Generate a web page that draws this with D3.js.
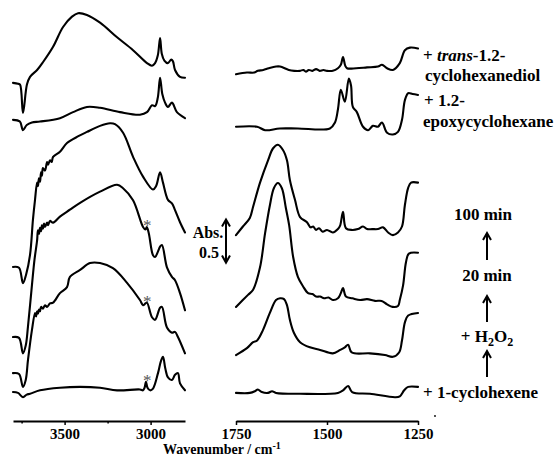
<!DOCTYPE html>
<html><head><meta charset="utf-8">
<script src="https://cdn.jsdelivr.net/npm/d3@7"></script>
<style>
body{margin:0;background:#fff;}
svg{display:block;}
text{font-family:"Liberation Serif","Times New Roman",serif;font-weight:bold;fill:#000;}
</style></head>
<body><svg id="c" width="554" height="456"></svg>
<script>
// ---- data (wavenumber cm-1, absorbance relative to each spectrum's offset) ----
const spectraNames = ["+ trans-1.2-cyclohexanediol","+ 1.2-epoxycyclohexane","100 min","20 min","+ H2O2","+ 1-cyclohexene"];
const offsets = [3.92, 3.49, 1.78, 0.965, 0.545, 0.325];
const leftTicksMajor = [3500, 3000];
const leftTicksMinor = [3750, 3250];
const rightTicks = [1750, 1500, 1250];
const asteriskWn = 3025;
const asteriskSpectra = [3, 4, 5];
const scaleBarBase = 1.83;   // absorbance where the 0.5 scale bar starts
const scaleBarSize = 0.5;

const diolHigh = [[3800,0],[3771,-0.01],[3759,-0.02],[3742,-0.35],[3719,-0.02],[3701,0.07],[3660,0.15],[3626,0.24],[3567,0.42],[3509,0.65],[3457,0.77],[3422,0.81],[3370,0.79],[3294,0.70],[3195,0.53],[3102,0.38],[3021,0.23],[2992,0.20],[2974,0.23],[2958,0.32],[2945,0.52],[2935,0.34],[2920,0.26],[2900,0.23],[2880,0.27],[2870,0.25],[2858,0.15],[2829,0.07],[2800,0.06]];
const epoxyHigh = [[3800,0],[3760,-0.02],[3742,-0.12],[3720,-0.06],[3690,-0.03],[3643,-0.02],[3527,0.02],[3451,0.09],[3370,0.15],[3294,0.14],[3178,0.09],[3062,0.06],[3021,0.09],[2992,0.17],[2974,0.16],[2958,0.26],[2945,0.49],[2932,0.30],[2916,0.20],[2899,0.15],[2876,0.20],[2847,0.09],[2800,0.02]];
const run100High = [[3800,0],[3765,-0.01],[3742,-0.19],[3724,-0.09],[3701,0.14],[3684,0.55],[3672,0.78],[3660,0.98],[3655,0.94],[3649,1.03],[3643,0.99],[3637,1.10],[3632,1.06],[3626,1.15],[3614,1.12],[3602,1.22],[3596,1.19],[3585,1.24],[3575,1.22],[3567,1.28],[3527,1.34],[3486,1.44],[3420,1.52],[3370,1.57],[3294,1.64],[3236,1.67],[3207,1.66],[3160,1.56],[3102,1.28],[3044,1.05],[2986,0.90],[2968,0.94],[2945,1.10],[2928,0.98],[2899,0.78],[2876,0.74],[2858,0.66],[2829,0.52],[2800,0.40]];
const run20High = [[3800,0],[3765,-0.01],[3742,-0.19],[3726,-0.10],[3713,0.12],[3690,0.60],[3675,0.90],[3660,1.12],[3655,1.24],[3649,1.20],[3643,1.27],[3637,1.23],[3632,1.30],[3626,1.26],[3620,1.32],[3614,1.28],[3602,1.33],[3596,1.30],[3585,1.35],[3567,1.33],[3527,1.40],[3469,1.48],[3410,1.56],[3294,1.69],[3195,1.77],[3160,1.73],[3102,1.59],[3044,1.28],[3030,1.25],[3022,1.28],[3010,1.20],[2986,0.95],[2974,0.93],[2958,0.99],[2945,1.05],[2934,1.07],[2905,0.81],[2876,0.70],[2858,0.66],[2829,0.51],[2800,0.31]];
const h2o2High = [[3800,0],[3765,-0.01],[3742,-0.16],[3726,-0.08],[3713,0.15],[3690,0.50],[3672,0.70],[3666,0.66],[3660,0.72],[3655,0.69],[3649,0.74],[3643,0.72],[3637,0.77],[3626,0.75],[3614,0.79],[3602,0.77],[3585,0.81],[3567,0.82],[3527,0.93],[3486,1.00],[3469,1.12],[3410,1.20],[3352,1.28],[3294,1.28],[3219,1.22],[3137,1.05],[3062,0.85],[3044,0.79],[3030,0.81],[3021,0.82],[2992,0.65],[2974,0.62],[2945,0.76],[2934,0.77],[2905,0.53],[2876,0.47],[2858,0.48],[2841,0.42],[2800,0.23]];
const cyclohexeneHigh = [[3800,0],[3771,-0.01],[3742,-0.06],[3720,-0.03],[3701,-0.02],[3643,0.02],[3527,0.05],[3410,0.06],[3294,0.05],[3195,0.02],[3062,0.03],[3044,0.02],[3035,0.05],[3027,0.12],[3018,0.05],[3003,0.02],[2986,0.04],[2957,0.22],[2940,0.36],[2928,0.41],[2915,0.28],[2899,0.17],[2876,0.14],[2858,0.20],[2841,0.22],[2829,0.10],[2800,0.02]];

const diolLow = [[1750,0.10],[1720,0.12],[1700,0.12],[1690,0.14],[1675,0.15],[1660,0.17],[1640,0.19],[1629,0.19],[1605,0.15],[1590,0.14],[1574,0.14],[1565,0.15],[1558,0.13],[1550,0.15],[1540,0.14],[1530,0.16],[1520,0.14],[1510,0.15],[1500,0.14],[1484,0.14],[1470,0.17],[1462,0.21],[1456,0.30],[1450,0.20],[1445,0.17],[1420,0.17],[1390,0.18],[1360,0.19],[1349,0.21],[1335,0.17],[1319,0.15],[1300,0.23],[1286,0.38],[1272,0.41],[1250,0.40]];
const epoxyLow = [[1750,-0.08],[1692,-0.08],[1670,-0.12],[1630,-0.10],[1580,-0.10],[1492,-0.10],[1478,-0.03],[1470,0.12],[1462,0.35],[1451,0.21],[1440,0.48],[1434,0.40],[1429,0.15],[1418,0.09],[1401,-0.08],[1387,-0.12],[1374,-0.07],[1360,-0.08],[1349,-0.03],[1335,-0.15],[1319,-0.17],[1305,-0.14],[1294,0.0],[1286,0.23],[1277,0.31],[1265,0.30],[1250,0.29]];
const run100Low = [[1750,0.37],[1731,0.47],[1712,0.57],[1703,0.70],[1684,0.98],[1662,1.24],[1648,1.38],[1635,1.42],[1621,1.36],[1610,1.24],[1602,1.01],[1588,0.78],[1574,0.58],[1555,0.52],[1545,0.46],[1538,0.47],[1530,0.43],[1522,0.45],[1512,0.41],[1500,0.43],[1484,0.40],[1470,0.44],[1464,0.48],[1456,0.64],[1448,0.45],[1431,0.43],[1415,0.44],[1401,0.47],[1390,0.44],[1376,0.44],[1360,0.44],[1346,0.46],[1332,0.40],[1319,0.37],[1305,0.40],[1294,0.47],[1286,0.72],[1277,0.92],[1269,0.98],[1250,0.98]];
const run20Low = [[1750,0.35],[1717,0.49],[1703,0.55],[1684,0.81],[1670,1.21],[1657,1.53],[1646,1.73],[1635,1.79],[1624,1.73],[1613,1.50],[1604,1.30],[1593,0.93],[1580,0.70],[1566,0.59],[1552,0.51],[1540,0.50],[1530,0.47],[1519,0.47],[1508,0.45],[1496,0.46],[1484,0.43],[1470,0.45],[1462,0.51],[1456,0.57],[1448,0.47],[1430,0.45],[1409,0.43],[1390,0.44],[1368,0.42],[1350,0.42],[1335,0.38],[1320,0.35],[1305,0.36],[1300,0.43],[1291,0.60],[1283,0.87],[1275,0.97],[1250,0.98]];
const h2o2Low = [[1750,0.21],[1720,0.29],[1703,0.36],[1692,0.38],[1676,0.50],[1657,0.70],[1640,0.85],[1629,0.87],[1618,0.86],[1610,0.79],[1602,0.62],[1591,0.47],[1574,0.36],[1547,0.30],[1519,0.27],[1484,0.23],[1464,0.27],[1451,0.30],[1442,0.33],[1432,0.24],[1382,0.23],[1341,0.21],[1319,0.19],[1302,0.24],[1294,0.38],[1286,0.59],[1277,0.67],[1250,0.70]];
const cyclohexeneLow = [[1750,-0.01],[1712,-0.01],[1698,0.01],[1690,0.03],[1679,0.0],[1662,-0.01],[1651,0.01],[1640,-0.01],[1574,-0.02],[1470,-0.01],[1456,0.02],[1442,0.07],[1431,0.0],[1382,-0.02],[1313,-0.06],[1300,-0.05],[1288,0.02],[1277,0.06],[1250,0.06]];

const highSpectra = [diolHigh, epoxyHigh, run100High, run20High, h2o2High, cyclohexeneHigh];
const lowSpectra = [diolLow, epoxyLow, run100Low, run20Low, h2o2Low, cyclohexeneLow];

// ---- drawing ----
const svg = d3.select("#c");
const xL = d3.scaleLinear().domain([3800, 2800]).range([13, 185]);
const xR = d3.scaleLinear().domain([1750, 1250]).range([236, 418]);
const y = d3.scaleLinear().domain([0, 1]).range([420, 334]);

function drawPanel(x, spectra) {
  spectra.forEach((s, i) => {
    const line = d3.line().x(d => x(d[0])).y(d => y(d[1] + offsets[i])).curve(d3.curveCatmullRom.alpha(0.5));
    svg.append("path").attr("d", line(s)).attr("fill", "none").attr("stroke", "#000")
      .attr("stroke-width", 2.1).attr("stroke-linejoin", "round").attr("stroke-linecap", "round");
  });
}
drawPanel(xL, highSpectra);
drawPanel(xR, lowSpectra);

// asterisks
asteriskSpectra.forEach(i => {
  const s = highSpectra[i];
  const pt = s.reduce((a, b) => Math.abs(b[0] - asteriskWn) < Math.abs(a[0] - asteriskWn) ? b : a);
  svg.append("text").attr("x", xL(asteriskWn) + 1).attr("y", y(pt[1] + offsets[i]) + 4)
    .attr("text-anchor", "middle").style("font-size", "17px").style("font-weight", "normal")
    .style("fill", "#555").text("*");
});

// axes
function styleAxis(g) {
  g.select(".domain").attr("stroke-width", 1.8);
  g.selectAll(".tick line").attr("stroke-width", 1.5);
  g.selectAll(".tick text").style("font-family", "'Liberation Serif',serif").style("font-weight", "bold").style("font-size", "15px").attr("dy", "0").attr("y", 18);
}
const axLeft = svg.append("g").attr("transform", "translate(0,421)")
  .call(d3.axisBottom(xL).tickValues(leftTicksMajor).tickSize(4).tickSizeOuter(0).tickFormat(d3.format("d")));
styleAxis(axLeft);
const axLeftMinor = svg.append("g").attr("transform", "translate(0,421)")
  .call(d3.axisBottom(xL).tickValues(leftTicksMinor).tickSize(2.5).tickSizeOuter(0).tickFormat(""));
axLeftMinor.select(".domain").remove();
axLeftMinor.selectAll(".tick line").attr("stroke-width", 1.5);
const axRight = svg.append("g").attr("transform", "translate(0,421)")
  .call(d3.axisBottom(xR).tickValues(rightTicks).tickSize(4).tickSizeOuter(0).tickFormat(d3.format("d")));
styleAxis(axRight);

// axis title
const t = svg.append("text").attr("x", 163).attr("y", 454).style("font-size", "14px");
t.append("tspan").text("Wavenumber / cm");
t.append("tspan").attr("dy", -5).style("font-size", "10px").text("-1");

svg.append("circle").attr("cx", 435).attr("cy", 416).attr("r", 0.9).attr("fill", "#000");

// labels
const fs = "17px";
const lab1 = svg.append("text").attr("x", 423).attr("y", 61).style("font-size", fs);
lab1.append("tspan").text("+ ");
lab1.append("tspan").style("font-style", "italic").text("trans");
lab1.append("tspan").text("-1.2-");
svg.append("text").attr("x", 425).attr("y", 81).style("font-size", fs).text("cyclohexanediol");
svg.append("text").attr("x", 424).attr("y", 106).style("font-size", fs).text("+ 1.2-");
svg.append("text").attr("x", 423).attr("y", 127).style("font-size", fs).text("epoxycyclohexane");

svg.append("text").attr("x", 483).attr("y", 220).attr("text-anchor", "middle").style("font-size", fs).text("100 min");
svg.append("text").attr("x", 487).attr("y", 281).attr("text-anchor", "middle").style("font-size", fs).text("20 min");
const h = svg.append("text").attr("x", 487).attr("y", 342).attr("text-anchor", "middle").style("font-size", fs);
h.append("tspan").text("+ H");
h.append("tspan").attr("dy", 4).style("font-size", "12px").text("2");
h.append("tspan").attr("dy", -4).text("O");
h.append("tspan").attr("dy", 4).style("font-size", "12px").text("2");
svg.append("text").attr("x", 423).attr("y", 398).style("font-size", fs).text("+ 1-cyclohexene");

// up arrows
function upArrow(x, y1, y2) {
  svg.append("line").attr("x1", x).attr("x2", x).attr("y1", y1 + 1).attr("y2", y2).attr("stroke", "#000").attr("stroke-width", 2);
  svg.append("path").attr("d", `M${x - 4},${y1 + 7} L${x},${y1} L${x + 4},${y1 + 7}`).attr("fill", "none").attr("stroke", "#000").attr("stroke-width", 2);
}
upArrow(487, 233, 260);
upArrow(487, 296, 322);
upArrow(487, 351, 377);

// Abs scale bar (0.5 absorbance)
const barX = 226, barTop = y(scaleBarBase + scaleBarSize), barBot = y(scaleBarBase);
svg.append("line").attr("x1", barX).attr("x2", barX).attr("y1", barTop + 1).attr("y2", barBot - 1).attr("stroke", "#000").attr("stroke-width", 2);
svg.append("path").attr("d", `M${barX - 4},${barTop + 7} L${barX},${barTop} L${barX + 4},${barTop + 7}`).attr("fill", "none").attr("stroke", "#000").attr("stroke-width", 2);
svg.append("path").attr("d", `M${barX - 4},${barBot - 7} L${barX},${barBot} L${barX + 4},${barBot - 7}`).attr("fill", "none").attr("stroke", "#000").attr("stroke-width", 2);
svg.append("text").attr("x", 208).attr("y", 238).attr("text-anchor", "middle").style("font-size", "16px").text("Abs.");
svg.append("text").attr("x", 209).attr("y", 258).attr("text-anchor", "middle").style("font-size", "16px").text("0.5");
</script>
</body></html>
